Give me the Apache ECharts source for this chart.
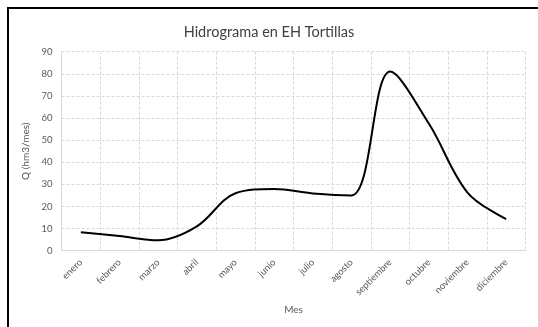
<!DOCTYPE html>
<html>
<head>
<meta charset="utf-8">
<script src="https://cdn.jsdelivr.net/npm/echarts@6/dist/echarts.min.js"></script>
<style>
html,body{margin:0;padding:0;background:#fff;}
#c{width:538px;height:327px;}
</style>
</head>
<body>
<div id="c"></div>
<script>
const months = ['enero','febrero','marzo','abril','mayo','junio','julio','agosto','septiembre','octubre','noviembre','diciembre'];
const flows = [8.3, 6.6, 4.7, 11, 26, 27.9, 25.9, 25, 81, 57.5, 26.3, 14.3];
const yTicks = {min: 0, max: 90, step: 10};

const chart = echarts.init(document.getElementById('c'));
const font = 'Lato, "Open Sans", sans-serif';
chart.setOption({
  animation: false,
  title: {
    text: 'Hidrograma en EH Tortillas',
    left: 'center', top: 20,
    textStyle: {fontFamily: font, fontSize: 14.5, fontWeight: 'normal', color: '#404040'}
  },
  graphic: [{
    type: 'rect', shape: {x: 8, y: 8, width: 700, height: 500},
    style: {fill: 'none', stroke: '#000', lineWidth: 2}, silent: true
  }],
  grid: {left: 61.5, right: 12.5, top: 51.7, bottom: 76.3},
  xAxis: {
    type: 'category', data: months, boundaryGap: true,
    name: 'Mes', nameLocation: 'middle', nameGap: 54,
    nameTextStyle: {fontFamily: font, fontSize: 10, color: '#595959'},
    axisLine: {lineStyle: {color: '#d9d9d9', width: 1}},
    axisTick: {show: false},
    axisLabel: {rotate: 45, fontFamily: font, fontSize: 9.5, color: '#595959', margin: 10, interval: 0},
    splitLine: {show: true, lineStyle: {color: '#d9d9d9', type: [3, 2], width: 1}}
  },
  yAxis: {
    type: 'value', min: yTicks.min, max: yTicks.max, interval: yTicks.step,
    name: 'Q (hm3/mes)', nameLocation: 'middle', nameGap: 25,
    nameTextStyle: {fontFamily: font, fontSize: 10, color: '#595959'},
    axisLine: {show: true, lineStyle: {color: '#d9d9d9', width: 1}},
    axisTick: {show: false},
    axisLabel: {fontFamily: font, fontSize: 9.5, color: '#595959', margin: 9},
    splitLine: {show: true, lineStyle: {color: '#d9d9d9', type: [3, 2], width: 1}}
  },
  series: [{
    type: 'line', data: flows, smooth: 0.35, showSymbol: false,
    lineStyle: {color: '#000', width: 2}
  }]
});
</script>
</body>
</html>
